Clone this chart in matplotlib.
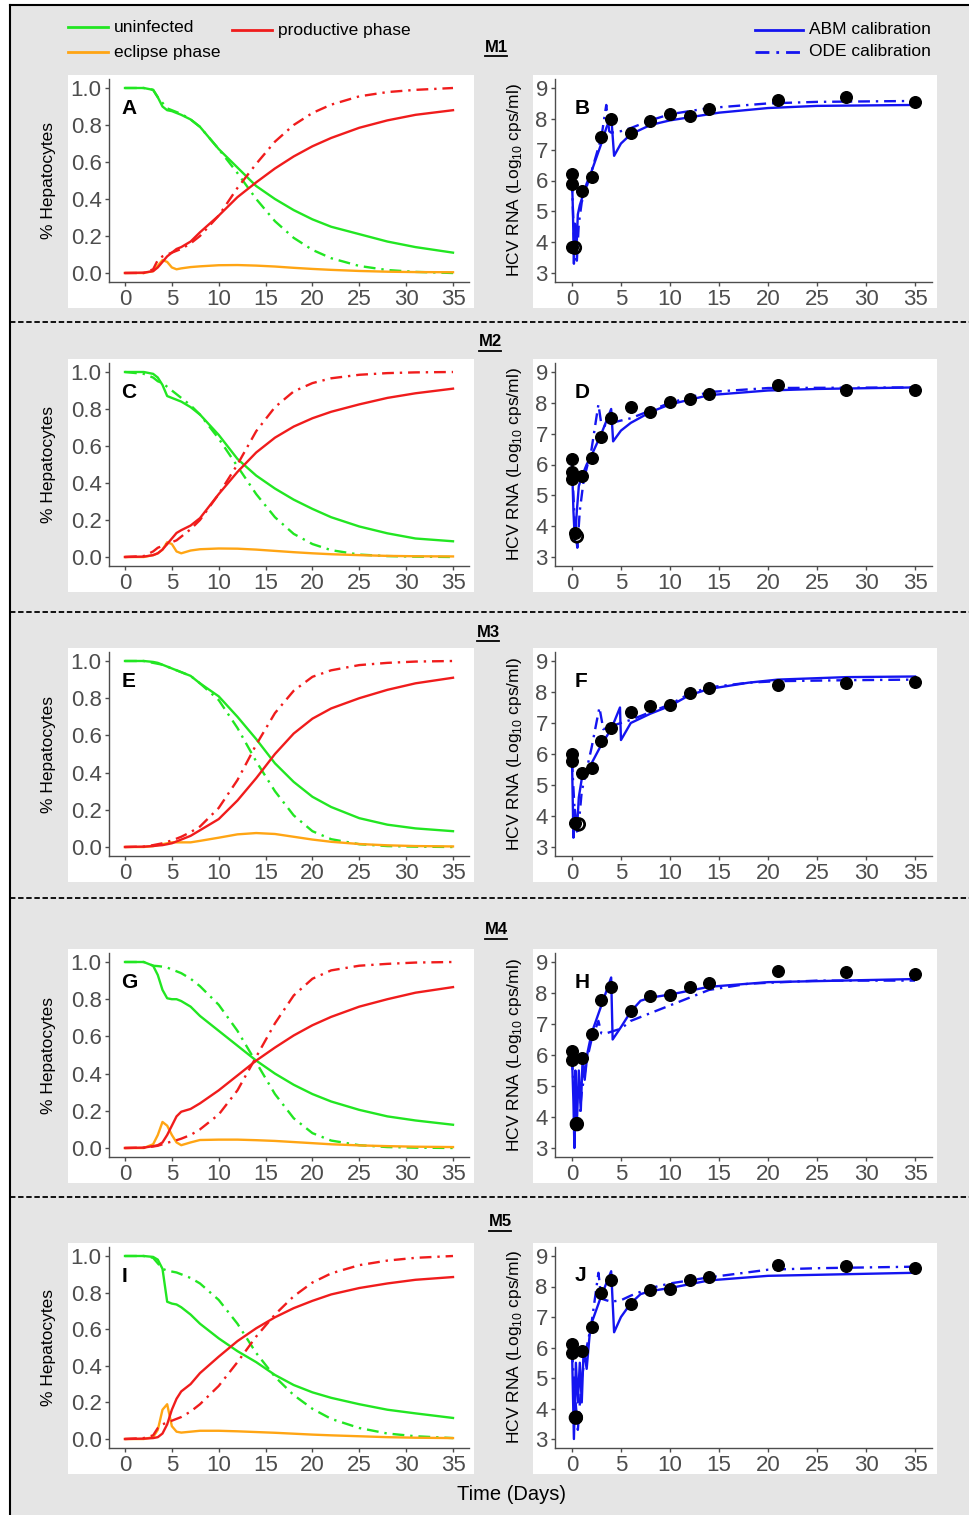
import numpy as np
import matplotlib.pyplot as plt
from matplotlib.lines import Line2D
from matplotlib.patches import Rectangle

plt.rcParams['font.family'] = ['Liberation Sans', 'DejaVu Sans']

W, H = 969, 1515

# ---- hepatocyte panels (A, C, E, G, I) ----
t_hep = [0, 2, 3, 3.5, 4, 4.5, 5, 5.5, 6, 7, 8, 10, 12, 14, 16, 18, 20, 22, 25, 28, 31, 35]

# M1
a_unf_abm = [1, 1, 0.99, 0.95, 0.90, 0.88, 0.875, 0.865, 0.855, 0.83, 0.79, 0.67, 0.57, 0.47, 0.40, 0.34, 0.29, 0.25, 0.21, 0.17, 0.14, 0.11]
a_unf_ode = [1, 1, 0.99, 0.95, 0.92, 0.89, 0.88, 0.87, 0.86, 0.83, 0.79, 0.67, 0.54, 0.40, 0.28, 0.19, 0.125, 0.08, 0.038, 0.016, 0.006, 0.0]
a_prod_abm = [0, 0.002, 0.01, 0.03, 0.06, 0.09, 0.11, 0.13, 0.14, 0.17, 0.22, 0.31, 0.41, 0.49, 0.565, 0.63, 0.685, 0.73, 0.785, 0.825, 0.855, 0.88]
a_prod_ode = [0, 0, 0.02, 0.07, 0.09, 0.10, 0.11, 0.12, 0.13, 0.16, 0.20, 0.31, 0.46, 0.59, 0.71, 0.80, 0.865, 0.91, 0.955, 0.978, 0.99, 1.0]
a_ecl_abm = [0, 0, 0.01, 0.04, 0.07, 0.06, 0.03, 0.02, 0.025, 0.032, 0.036, 0.042, 0.043, 0.04, 0.035, 0.028, 0.022, 0.017, 0.011, 0.007, 0.005, 0.004]

# M2
c_unf_abm = [1, 1, 0.99, 0.97, 0.93, 0.87, 0.86, 0.85, 0.84, 0.81, 0.77, 0.66, 0.53, 0.44, 0.37, 0.31, 0.26, 0.215, 0.165, 0.128, 0.10, 0.085]
c_unf_ode = [1, 0.99, 0.97, 0.95, 0.94, 0.92, 0.90, 0.88, 0.86, 0.82, 0.77, 0.64, 0.49, 0.34, 0.215, 0.125, 0.07, 0.037, 0.013, 0.005, 0.002, 0.0]
c_prod_abm = [0, 0.002, 0.01, 0.02, 0.04, 0.07, 0.10, 0.13, 0.145, 0.17, 0.21, 0.34, 0.46, 0.565, 0.645, 0.705, 0.75, 0.785, 0.825, 0.86, 0.885, 0.91]
c_prod_ode = [0, 0.005, 0.03, 0.05, 0.06, 0.07, 0.08, 0.09, 0.11, 0.15, 0.20, 0.34, 0.50, 0.68, 0.81, 0.895, 0.94, 0.966, 0.985, 0.994, 0.998, 1.0]
c_ecl_abm = [0, 0, 0.01, 0.02, 0.04, 0.08, 0.07, 0.03, 0.02, 0.035, 0.042, 0.046, 0.045, 0.04, 0.033, 0.026, 0.02, 0.015, 0.01, 0.006, 0.004, 0.003]

# M3
e_unf_abm = [1, 1, 0.995, 0.99, 0.98, 0.97, 0.96, 0.95, 0.94, 0.92, 0.88, 0.81, 0.70, 0.58, 0.45, 0.35, 0.27, 0.215, 0.155, 0.12, 0.10, 0.085]
e_unf_ode = [1, 1, 0.99, 0.985, 0.98, 0.97, 0.96, 0.95, 0.94, 0.92, 0.88, 0.79, 0.64, 0.46, 0.30, 0.17, 0.085, 0.042, 0.015, 0.005, 0.002, 0.0]
e_prod_abm = [0, 0.002, 0.005, 0.008, 0.01, 0.015, 0.02, 0.03, 0.04, 0.06, 0.09, 0.15, 0.25, 0.37, 0.50, 0.61, 0.69, 0.745, 0.80, 0.845, 0.88, 0.91]
e_prod_ode = [0, 0.002, 0.01, 0.015, 0.02, 0.028, 0.035, 0.045, 0.055, 0.08, 0.11, 0.21, 0.36, 0.55, 0.72, 0.84, 0.915, 0.95, 0.978, 0.99, 0.997, 1.0]
e_ecl_abm = [0, 0, 0.005, 0.01, 0.015, 0.02, 0.025, 0.025, 0.025, 0.025, 0.033, 0.05, 0.068, 0.075, 0.07, 0.055, 0.04, 0.028, 0.016, 0.009, 0.005, 0.003]

# M4
g_unf_abm = [1, 1, 0.98, 0.93, 0.85, 0.805, 0.80, 0.80, 0.79, 0.76, 0.71, 0.63, 0.55, 0.47, 0.40, 0.34, 0.29, 0.25, 0.205, 0.17, 0.148, 0.125]
g_unf_ode = [1, 1, 0.98, 0.978, 0.975, 0.97, 0.96, 0.95, 0.94, 0.91, 0.87, 0.77, 0.63, 0.46, 0.29, 0.16, 0.08, 0.04, 0.015, 0.005, 0.002, 0.0]
g_prod_abm = [0, 0.002, 0.01, 0.015, 0.03, 0.07, 0.12, 0.17, 0.195, 0.21, 0.24, 0.31, 0.39, 0.47, 0.54, 0.605, 0.66, 0.705, 0.76, 0.80, 0.835, 0.865]
g_prod_ode = [0, 0.002, 0.008, 0.012, 0.02, 0.028, 0.035, 0.042, 0.05, 0.07, 0.10, 0.18, 0.31, 0.49, 0.67, 0.82, 0.91, 0.955, 0.98, 0.99, 0.997, 1.0]
g_ecl_abm = [0, 0, 0.02, 0.07, 0.14, 0.12, 0.07, 0.03, 0.015, 0.03, 0.043, 0.045, 0.045, 0.042, 0.038, 0.032, 0.026, 0.02, 0.014, 0.01, 0.007, 0.005]

# M5
i_unf_abm = [1, 1, 0.995, 0.98, 0.93, 0.75, 0.74, 0.735, 0.72, 0.68, 0.63, 0.55, 0.48, 0.42, 0.35, 0.295, 0.255, 0.225, 0.19, 0.16, 0.14, 0.115]
i_unf_ode = [1, 1, 0.99, 0.96, 0.93, 0.92, 0.915, 0.91, 0.90, 0.88, 0.85, 0.76, 0.63, 0.47, 0.34, 0.24, 0.165, 0.11, 0.06, 0.03, 0.015, 0.005]
i_prod_abm = [0, 0.002, 0.005, 0.01, 0.03, 0.08, 0.16, 0.22, 0.26, 0.30, 0.36, 0.45, 0.535, 0.605, 0.665, 0.715, 0.755, 0.79, 0.825, 0.85, 0.87, 0.885]
i_prod_ode = [0, 0.005, 0.02, 0.06, 0.08, 0.09, 0.10, 0.11, 0.12, 0.15, 0.19, 0.29, 0.42, 0.56, 0.68, 0.78, 0.855, 0.905, 0.95, 0.975, 0.99, 1.0]
i_ecl_abm = [0, 0, 0.01, 0.05, 0.16, 0.19, 0.07, 0.04, 0.035, 0.04, 0.045, 0.045, 0.042, 0.038, 0.034, 0.029, 0.024, 0.02, 0.015, 0.01, 0.007, 0.005]

# ---- viral load panels (B, D, F, H, J) ----
b_days = [0, 0, 0, 1, 2, 3, 4, 6, 8, 10, 12, 14, 21, 28, 35]
b_obs = [6.2, 5.88, 3.85, 5.65, 6.1, 7.4, 8.0, 7.55, 7.92, 8.15, 8.08, 8.33, 8.62, 8.72, 8.53]
b_lod = (0.3, 3.82)
b_abm_t = [0, 0.1, 0.2, 0.3, 0.45, 0.6, 0.8, 1, 1.5, 2, 3, 3.5, 4, 4.3, 5, 6, 8, 10, 15, 20, 25, 35]
b_abm_v = [6.1, 5.0, 3.3, 4.6, 3.7, 4.9, 5.2, 5.4, 5.9, 6.3, 7.2, 7.7, 8.1, 6.8, 7.2, 7.5, 7.8, 7.95, 8.2, 8.35, 8.42, 8.45]
b_ode_t = [0, 0.25, 0.5, 0.7, 1, 1.5, 2, 3, 3.5, 3.8, 4, 5, 6, 8, 10, 14, 20, 25, 35]
b_ode_v = [6.0, 3.6, 3.4, 4.6, 5.3, 5.8, 6.3, 7.4, 8.45, 7.6, 7.55, 7.6, 7.7, 7.95, 8.15, 8.35, 8.5, 8.55, 8.58]

d_days = [0, 0, 0, 0.3, 1, 2, 3, 4, 6, 8, 10, 12, 14, 21, 28, 35]
d_obs = [6.18, 5.77, 5.52, 3.77, 5.62, 6.22, 6.88, 7.5, 7.85, 7.7, 8.04, 8.14, 8.3, 8.58, 8.42, 8.43]
d_lod = (0.5, 3.67)
d_abm_t = [0, 0.15, 0.3, 0.5, 0.7, 1, 1.5, 2, 3, 4, 4.2, 5, 6, 8, 10, 14, 20, 25, 35]
d_abm_v = [6.1, 4.5, 3.5, 4.5, 5.3, 5.6, 6.0, 6.3, 7.0, 7.8, 6.75, 7.1, 7.35, 7.7, 7.95, 8.25, 8.4, 8.45, 8.5]
d_ode_t = [0, 0.3, 0.55, 0.8, 1.2, 2, 2.7, 3, 3.5, 4, 6, 8, 10, 14, 20, 35]
d_ode_v = [6.0, 4.0, 3.3, 4.5, 5.5, 6.5, 7.95, 7.3, 7.25, 7.35, 7.5, 7.75, 8.0, 8.35, 8.48, 8.5]

f_days = [0, 0, 0.3, 1, 2, 3, 4, 6, 8, 10, 12, 14, 21, 28, 35]
f_obs = [6.0, 5.76, 3.78, 5.4, 5.55, 6.41, 6.83, 7.34, 7.55, 7.57, 7.97, 8.13, 8.23, 8.29, 8.33]
f_lod = (0.7, 3.73)
f_abm_t = [0, 0.15, 0.3, 0.5, 0.7, 1, 2, 3, 4, 4.9, 5.0, 6, 8, 10, 12, 14, 18, 21, 28, 35]
f_abm_v = [5.9, 3.3, 4.2, 3.5, 4.6, 5.2, 5.7, 6.3, 6.8, 7.5, 6.45, 7.0, 7.3, 7.55, 7.9, 8.1, 8.3, 8.4, 8.48, 8.5]
f_ode_t = [0, 0.3, 0.6, 1, 2, 2.8, 3.2, 4, 5, 6, 8, 10, 12, 14, 18, 21, 28, 35]
f_ode_v = [5.8, 4.0, 3.4, 4.8, 6.2, 7.5, 6.8, 6.9, 7.0, 7.1, 7.35, 7.6, 7.95, 8.15, 8.3, 8.35, 8.38, 8.4]

h_days = [0, 0, 0.4, 1, 2, 3, 4, 6, 8, 10, 12, 14, 21, 28, 35]
h_obs = [6.12, 5.84, 3.78, 5.9, 6.67, 7.78, 8.2, 7.42, 7.9, 7.93, 8.18, 8.31, 8.7, 8.67, 8.62]
h_lod = (0.5, 3.77)
h_abm_t = [0, 0.15, 0.25, 0.35, 0.5, 0.7, 0.9, 1.1, 1.3, 1.6, 2, 3, 4, 4.15, 5, 6, 7, 8, 10, 14, 20, 35]
h_abm_v = [6.0, 4.5, 3.0, 5.5, 3.8, 5.5, 4.2, 6.0, 5.2, 6.1, 6.7, 7.6, 8.5, 6.5, 6.9, 7.4, 7.75, 7.85, 7.95, 8.2, 8.35, 8.45]
h_ode_t = [0, 0.3, 0.6, 1, 1.5, 2, 2.7, 3, 3.5, 4, 5, 6, 8, 10, 12, 14, 18, 25, 35]
h_ode_v = [5.9, 4.3, 3.5, 4.8, 5.8, 6.5, 7.1, 6.7, 6.7, 6.75, 6.85, 7.1, 7.35, 7.6, 7.85, 8.1, 8.3, 8.4, 8.4]

j_days = [0, 0, 0.4, 1, 2, 3, 4, 6, 8, 10, 12, 14, 21, 28, 35]
j_obs = [6.13, 5.83, 3.73, 5.9, 6.66, 7.78, 8.2, 7.42, 7.9, 7.93, 8.2, 8.32, 8.7, 8.67, 8.62]
j_lod = (0.4, 3.7)
j_abm_t = [0, 0.2, 0.4, 0.6, 0.8, 1.0, 1.2, 1.5, 1.8, 2, 3, 4, 4.3, 5, 6, 7, 8, 10, 14, 20, 35]
j_abm_v = [6.0, 3.0, 5.5, 4.2, 5.5, 4.2, 6.0, 5.3, 6.4, 6.8, 7.7, 8.5, 6.5, 7.0, 7.45, 7.75, 7.85, 7.95, 8.2, 8.35, 8.45]
j_ode_t = [0, 0.3, 0.6, 1, 1.5, 2, 2.7, 3.0, 3.5, 4, 5, 6, 8, 10, 14, 20, 25, 35]
j_ode_v = [5.9, 4.5, 3.3, 5.0, 6.0, 6.8, 8.45, 7.6, 7.55, 7.5, 7.55, 7.7, 7.95, 8.1, 8.3, 8.55, 8.6, 8.65]

models = ["M1", "M2", "M3", "M4", "M5"]
hep_letters = ["A", "C", "E", "G", "I"]
vl_letters = ["B", "D", "F", "H", "J"]
x_ticks = [0, 5, 10, 15, 20, 25, 30, 35]

hep = [
    (a_unf_abm, a_unf_ode, a_prod_abm, a_prod_ode, a_ecl_abm),
    (c_unf_abm, c_unf_ode, c_prod_abm, c_prod_ode, c_ecl_abm),
    (e_unf_abm, e_unf_ode, e_prod_abm, e_prod_ode, e_ecl_abm),
    (g_unf_abm, g_unf_ode, g_prod_abm, g_prod_ode, g_ecl_abm),
    (i_unf_abm, i_unf_ode, i_prod_abm, i_prod_ode, i_ecl_abm),
]
vl = [
    (b_days, b_obs, b_lod, b_abm_t, b_abm_v, b_ode_t, b_ode_v),
    (d_days, d_obs, d_lod, d_abm_t, d_abm_v, d_ode_t, d_ode_v),
    (f_days, f_obs, f_lod, f_abm_t, f_abm_v, f_ode_t, f_ode_v),
    (h_days, h_obs, h_lod, h_abm_t, h_abm_v, h_ode_t, h_ode_v),
    (j_days, j_obs, j_lod, j_abm_t, j_abm_v, j_ode_t, j_ode_v),
]

GREEN, RED, ORANGE, BLUE = "#22e622", "#f01c1c", "#ffa514", "#1414f0"
BG = "#e5e5e5"
DASHDOT = (5, 2.5, 1, 2.5)

# pixel layout helpers
def fx(x):
    return x / W

def fy(y):
    return 1 - y / H

def add_ax(x0, x1, y0, y1):
    return fig.add_axes([fx(x0), fy(y1), fx(x1) - fx(x0), (y1 - y0) / H])

fig = plt.figure(figsize=(W / 100, H / 100), dpi=100, facecolor="white")

# grey background with black frame on top and left
fig.patches.append(Rectangle((fx(10), 0), 1 - fx(10), fy(5), transform=fig.transFigure,
                             facecolor=BG, edgecolor="none", zorder=-10))
fig.lines.append(Line2D([fx(10), fx(10)], [0, fy(5)], transform=fig.transFigure, color="black", lw=1.5))
fig.lines.append(Line2D([fx(10), 1], [fy(5), fy(5)], transform=fig.transFigure, color="black", lw=1.5))

# row positions: pixel rows of y=max / y=min tick
row_top = [88, 372, 661, 962, 1256]
row_bot = [273, 557, 847, 1148, 1439]
m_pos = [(496, 47), (490, 342), (488, 632), (496, 930), (500, 1222)]
sep_y = [322, 612, 898, 1197]

for y in sep_y:
    fig.lines.append(Line2D([fx(10), 1], [fy(y), fy(y)], transform=fig.transFigure,
                            color="black", lw=1.3, dashes=(3, 1.5)))

def style_ax(ax):
    ax.set_facecolor("white")
    for s in ["top", "right"]:
        ax.spines[s].set_visible(False)
    for s in ["left", "bottom"]:
        ax.spines[s].set_color("#4d4d4d")
        ax.spines[s].set_linewidth(1.0)
    ax.tick_params(colors="#4d4d4d", labelsize=16, length=3, width=1, pad=2)
    ax.set_xticks(x_ticks)

for r in range(5):
    top, bot = row_top[r], row_bot[r]
    span = bot - top
    y0, y1 = top - 0.05 * span, bot + 0.05 * span

    # white panel backgrounds
    for px0, px1 in [(68, 474), (533, 937)]:
        fig.patches.append(Rectangle((fx(px0), fy(y1 + 26)), fx(px1) - fx(px0), (y1 + 26 - (y0 - 4)) / H,
                                     transform=fig.transFigure, facecolor="white",
                                     edgecolor="none", zorder=-5))

    # hepatocyte panel
    ax = add_ax(108.6, 469.4, y0, y1)
    style_ax(ax)
    unf_abm, unf_ode, prod_abm, prod_ode, ecl_abm = hep[r]
    ax.plot(t_hep, unf_ode, color=GREEN, lw=1.7, dashes=DASHDOT)
    ax.plot(t_hep, unf_abm, color=GREEN, lw=1.7)
    ax.plot(t_hep, ecl_abm, color=ORANGE, lw=1.7)
    ax.plot(t_hep, prod_ode, color=RED, lw=1.7, dashes=DASHDOT)
    ax.plot(t_hep, prod_abm, color=RED, lw=1.7)
    ax.set_xlim(-1.75, 36.75)
    ax.set_ylim(-0.05, 1.05)
    ax.set_yticks([0, 0.2, 0.4, 0.6, 0.8, 1.0])
    ax.set_yticklabels(["0.0", "0.2", "0.4", "0.6", "0.8", "1.0"])
    ax.text(-0.4, 0.89, hep_letters[r], fontsize=15, fontweight="bold", ha="left", va="center")
    fig.text(fx(48), fy((y0 + y1) / 2), "% Hepatocytes", rotation=90, fontsize=12.5,
             ha="center", va="center")

    # viral load panel
    ax2 = add_ax(554.8, 932.2, y0, y1)
    style_ax(ax2)
    days, obs, lod, abm_t, abm_v, ode_t, ode_v = vl[r]
    ax2.plot(ode_t, ode_v, color=BLUE, lw=1.7, dashes=DASHDOT)
    ax2.plot(abm_t, abm_v, color=BLUE, lw=1.7)
    ax2.scatter(days, obs, s=70, color="black", zorder=5)
    ax2.scatter([lod[0]], [lod[1]], s=70, facecolor="none", edgecolor="black", linewidth=2, zorder=5)
    ax2.set_xlim(-1.75, 36.75)
    ax2.set_ylim(2.7, 9.3)
    ax2.set_yticks([3, 4, 5, 6, 7, 8, 9])
    ax2.text(0.3, 8.35, vl_letters[r], fontsize=15, fontweight="bold", ha="left", va="center")
    fig.text(fx(515), fy((y0 + y1) / 2), r"HCV RNA (Log$_{\mathregular{10}}$ cps/ml)", rotation=90,
             fontsize=12.5, ha="center", va="center")

    # model label, underlined
    mx, my = m_pos[r]
    fig.text(fx(mx), fy(my), models[r], fontsize=12, fontweight="bold", ha="center", va="center")
    fig.lines.append(Line2D([fx(mx - 11), fx(mx + 11)], [fy(my + 9), fy(my + 9)],
                            transform=fig.transFigure, color="black", lw=1.3))

fig.text(fx(512), fy(1495), "Time (Days)", fontsize=14.5, ha="center", va="center")

# top legends
leg = [
    (68, 27, GREEN, None, "uninfected"),
    (68, 52, ORANGE, None, "eclipse phase"),
    (232, 30, RED, None, "productive phase"),
    (755, 30, BLUE, None, "ABM calibration"),
    (755, 52, BLUE, DASHDOT, "ODE calibration"),
]
for x, y, c, d, lab in leg:
    x1 = x + 40 if x < 700 else x + 48
    ln = Line2D([fx(x), fx(x1)], [fy(y), fy(y)], transform=fig.transFigure, color=c, lw=2)
    if d is not None:
        ln.set_dashes(d)
    fig.lines.append(ln)
    fig.text(fx(x1 + 6), fy(y), lab, fontsize=12.5, ha="left", va="center")

fig.savefig("out.png", dpi=100, facecolor="white")
